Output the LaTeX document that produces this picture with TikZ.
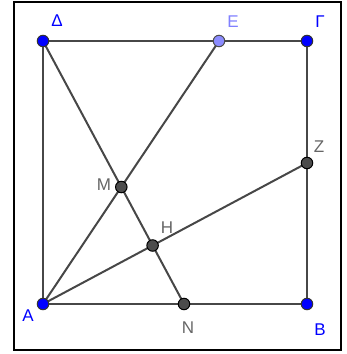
\documentclass[tikz,border=0pt]{standalone}
\usepackage{fontspec}
\setmainfont{Liberation Sans}
\begin{document}
\begin{tikzpicture}[x=1pt,y=-1pt,
  seg/.style={line width=2pt,draw=black!72},
  bluept/.style={circle,fill=blue,draw=black!80,line width=1pt,inner sep=0pt,minimum size=11.5pt},
  lbluept/.style={circle,fill=blue!45!white,draw=black!70,line width=1pt,inner sep=0pt,minimum size=11.5pt},
  greypt/.style={circle,fill=black!70,draw=black,line width=1pt,inner sep=0pt,minimum size=11.5pt},
  blab/.style={text=blue,font=\fontsize{17}{17}\selectfont,inner sep=0pt},
  lblab/.style={text=blue!50!white,font=\fontsize{17}{17}\selectfont,inner sep=0pt},
  glab/.style={text=black!60,font=\fontsize{17}{17}\selectfont,inner sep=0pt}]
\useasboundingbox (0,0) rectangle (347,354);
\draw[line width=2.5pt] (14,2) rectangle (341,350);
\coordinate (A) at (43,304);
\coordinate (B) at (307,304);
\coordinate (G) at (307,41);
\coordinate (D) at (43,41);
\coordinate (E) at (219,41);
\coordinate (N) at (184,304);
\coordinate (Z) at (307,163);
\coordinate (M) at (121.3,187);
\coordinate (H) at (152.6,245.5);
\draw[seg] (A) -- (B) -- (G) -- (D) -- (A);
\draw[seg] (D) -- (N);
\draw[seg] (A) -- (E);
\draw[seg] (A) -- (Z);
\node[bluept] (pA) at (A) {};
\node[bluept] (pB) at (B) {};
\node[bluept] (pG) at (G) {};
\node[bluept] (pD) at (D) {};
\node[lbluept] (pE) at (E) {};
\node[greypt] (pN) at (N) {};
\node[greypt] (pZ) at (Z) {};
\node[greypt] (pM) at (M) {};
\node[greypt] (pH) at (H) {};
\node[blab] (lD) at (57,21) {Δ};
\node[lblab] (lE) at (233,22) {Ε};
\node[blab] (lG) at (320,22) {Γ};
\node[blab] (lA) at (28,316) {Α};
\node[blab] (lB) at (320,330) {Β};
\node[glab] (lN) at (188,328) {Ν};
\node[glab] (lZ) at (319,147) {Ζ};
\node[glab] (lM) at (104,185) {Μ};
\node[glab] (lH) at (167,228) {Η};
\end{tikzpicture}
\end{document}
